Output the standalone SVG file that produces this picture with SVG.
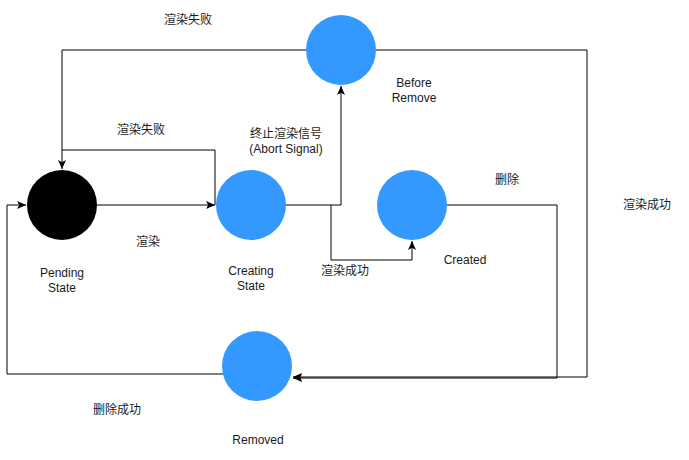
<svg xmlns="http://www.w3.org/2000/svg" width="689" height="460" viewBox="0 0 689 460">
<style>
.n{fill:#3399FF;}
.c{fill:none;stroke:#000;stroke-width:1;marker-end:url(#a);}
.p{fill:none;stroke:#000;stroke-width:1;}
text{font-family:"Liberation Sans","Noto Sans CJK SC",sans-serif;font-size:12px;fill:#1a1a1a;text-anchor:middle;}
</style>
<defs>
<marker id="a" viewBox="0 0 10 10" refX="9" refY="5" markerWidth="10" markerHeight="10" markerUnits="userSpaceOnUse" orient="auto">
<path d="M0,1 L9,5 L0,9 L2.2,5 Z" fill="#000"/>
</marker>
</defs>
<rect width="689" height="460" fill="#fff"/>
<g id="connectors">
<path class="c" d="M97,205 H215"/>
<path class="c" d="M285,205 H341 V86"/>
<path class="c" d="M331,205 V260 H412 V241"/>
<path class="c" d="M306,50 H62 V169"/>
<path class="p" d="M215,205 V150 H62"/>
<path class="c" d="M376,50 H587 V377 H293"/>
<path class="c" d="M447,205 H557 V378 H293"/>
<path class="c" d="M225,374 H7 V205 H26"/>
</g>
<g id="pending">
<circle cx="62" cy="205" r="35" fill="#000"/>
<text x="62" y="277">Pending</text>
<text x="62" y="292">State</text>
</g>
<g id="creating">
<circle class="n" cx="251" cy="205" r="35"/>
<text x="251" y="275">Creating</text>
<text x="251" y="290">State</text>
</g>
<g id="before-remove">
<circle class="n" cx="341" cy="50" r="35"/>
<text x="414" y="87">Before</text>
<text x="414" y="102">Remove</text>
</g>
<g id="created">
<circle class="n" cx="412" cy="205" r="35"/>
<text x="465" y="264">Created</text>
</g>
<g id="removed">
<circle class="n" cx="257" cy="366" r="35"/>
<text x="258" y="444">Removed</text>
</g>
<g id="labels">
<text x="188" y="24">渲染失败</text>
<text x="141" y="134">渲染失败</text>
<text x="286" y="138">终止渲染信号</text>
<text x="286" y="153">(Abort Signal)</text>
<text x="148" y="246">渲染</text>
<text x="345" y="275">渲染成功</text>
<text x="507" y="184">删除</text>
<text x="647" y="209">渲染成功</text>
<text x="117" y="414">删除成功</text>
</g>
</svg>
